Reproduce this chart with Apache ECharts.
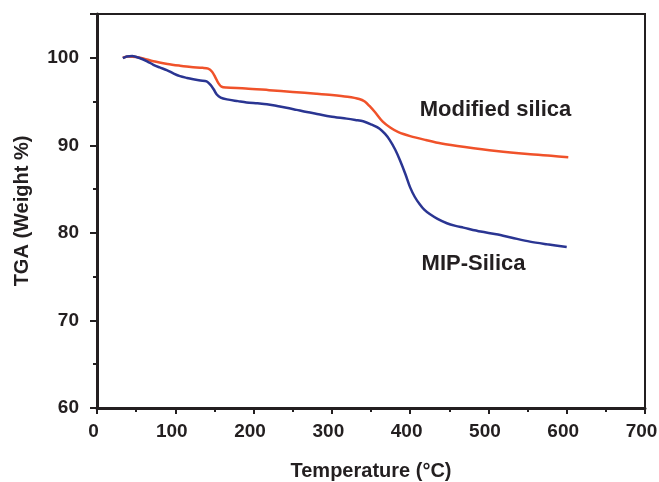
<!DOCTYPE html>
<html>
<head>
<meta charset="utf-8">
<script src="https://cdn.jsdelivr.net/npm/echarts@6/dist/echarts.min.js"></script>
<style>
  html, body { margin: 0; padding: 0; background: #fff; }
  #tga_chart { width: 659px; height: 482px; }
</style>
</head>
<body>
<div id="tga_chart"></div>
<script>
// 温度 (°C) / 失重 (%) —— 从图上读出来的
let modifiedSilica = [
  [33, 100.0], [40, 100.15], [50, 100.1], [60, 99.9], [72, 99.6], [90, 99.3],
  [106, 99.1], [120, 98.95], [135, 98.85], [142, 98.75], [147, 98.4], [151, 97.8],
  [155, 97.1], [159, 96.7], [165, 96.6], [190, 96.5], [220, 96.3], [250, 96.1],
  [280, 95.9], [300, 95.75], [320, 95.55], [335, 95.3], [342, 95.0], [348, 94.5],
  [355, 93.8], [365, 92.7], [375, 92.0], [385, 91.5], [400, 91.05], [420, 90.6],
  [440, 90.2], [470, 89.8], [510, 89.35], [550, 89.0], [580, 88.8], [602, 88.65]
]
let mipSilica = [
  [33, 99.95], [38, 100.15], [45, 100.2], [55, 99.95], [64, 99.6], [72, 99.2],
  [80, 98.9], [89, 98.6], [98, 98.2], [106, 97.9], [115, 97.7], [123, 97.55],
  [132, 97.4], [140, 97.3], [145, 96.9], [149, 96.4], [153, 95.8], [158, 95.45],
  [166, 95.25], [180, 95.05], [191, 94.9], [205, 94.8], [217, 94.7], [230, 94.5],
  [242, 94.3], [255, 94.05], [268, 93.8], [283, 93.55], [298, 93.3], [319, 93.05],
  [330, 92.9], [340, 92.75], [350, 92.4], [361, 91.9], [368, 91.3], [374, 90.6],
  [381, 89.5], [387, 88.3], [394, 86.7], [400, 85.2], [406, 84.1], [412, 83.3],
  [418, 82.65], [425, 82.15], [435, 81.6], [447, 81.1], [458, 80.8], [468, 80.6],
  [490, 80.15], [510, 79.85], [530, 79.45], [553, 79.0], [575, 78.7], [600, 78.4]
]
// 曲线旁边的文字标注 [x, y]
let labelModified = [509, 94.0]
let labelMip = [481, 76.4]

let textColor = '#231f20'
let font = 'Liberation Sans, Arial, Helvetica, sans-serif'

let option = {
  animation: false,
  grid: {
    left: 97,
    right: 14,
    top: 14,
    bottom: 74,
    outerBoundsMode: 'none', // v6 默认会把标签挤进容器，这里关掉
    show: true,
    borderColor: '#231f20',
    borderWidth: 2,
  },
  xAxis: {
    type: 'value',
    min: 0,
    max: 700,
    interval: 100,
    name: 'Temperature (°C)',
    nameLocation: 'middle',
    nameGap: 53,
    nameTextStyle: { color: textColor, fontSize: 20, fontWeight: 'bold', fontFamily: font },
    axisLine: { show: true, onZero: false, lineStyle: { color: textColor, width: 3 } },
    axisTick: { show: true, inside: false, length: 6, lineStyle: { color: textColor, width: 2 } },
    minorTick: { show: true, splitNumber: 2, length: 4, lineStyle: { color: textColor, width: 2 } },
    splitLine: { show: false },
    // 原图的刻度文字略偏左，700 才不会被裁掉
    axisLabel: { color: textColor, fontSize: 19, fontWeight: 'bold', fontFamily: font, margin: 14, padding: [0, 7, 0, 0] },
  },
  yAxis: {
    type: 'value',
    min: 60,
    max: 105,
    interval: 10,
    name: 'TGA (Weight %)',
    nameLocation: 'middle',
    nameGap: 65,
    nameTextStyle: { color: textColor, fontSize: 20, fontWeight: 'bold', fontFamily: font },
    axisLine: { show: true, onZero: false, lineStyle: { color: textColor, width: 3 } },
    axisTick: { show: true, inside: false, length: 7, lineStyle: { color: textColor, width: 2 } },
    minorTick: { show: true, splitNumber: 2, length: 4, lineStyle: { color: textColor, width: 2 } },
    splitLine: { show: false },
    axisLabel: { color: textColor, fontSize: 19, fontWeight: 'bold', fontFamily: font, margin: 18, showMaxLabel: false },
  },
  series: [
    {
      name: 'Modified silica',
      type: 'line',
      symbol: 'none',
      smooth: 0.3,
      data: modifiedSilica,
      lineStyle: { color: '#f0522a', width: 2.5 },
      markPoint: {
        symbol: 'circle',
        symbolSize: 0,
        data: [{ coord: labelModified }],
        label: {
          show: true,
          formatter: 'Modified silica',
          color: textColor,
          fontSize: 22,
          fontWeight: 'bold',
          fontFamily: font,
          position: 'inside',
        },
      },
    },
    {
      name: 'MIP-Silica',
      type: 'line',
      symbol: 'none',
      smooth: 0.3,
      data: mipSilica,
      lineStyle: { color: '#2a3592', width: 2.5 },
      markPoint: {
        symbol: 'circle',
        symbolSize: 0,
        data: [{ coord: labelMip }],
        label: {
          show: true,
          formatter: 'MIP-Silica',
          color: textColor,
          fontSize: 22,
          fontWeight: 'bold',
          fontFamily: font,
          position: 'inside',
        },
      },
    },
  ],
}

let myChart = echarts.init(document.getElementById('tga_chart'))
myChart.setOption(option)
</script>
</body>
</html>
